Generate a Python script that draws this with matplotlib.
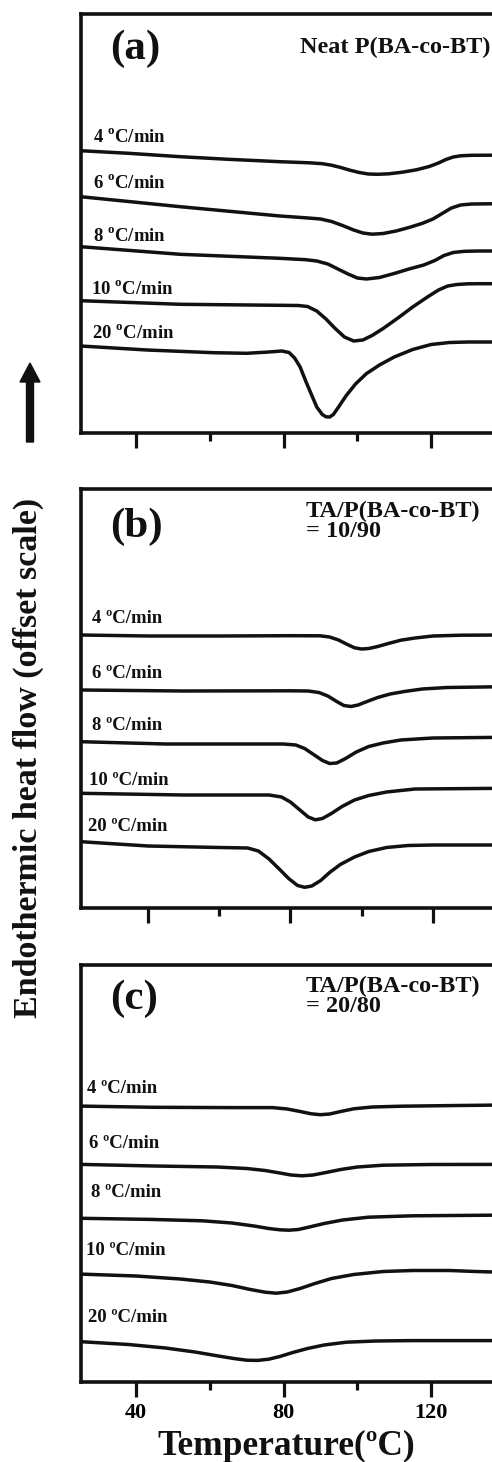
import matplotlib
matplotlib.use('Agg')
import matplotlib.pyplot as plt
from matplotlib.patches import FancyArrow

plt.rcParams['font.family'] = ['Liberation Serif', 'DejaVu Serif']
plt.rcParams['font.weight'] = 'bold'
plt.rcParams['mathtext.fontset'] = 'custom'
plt.rcParams['mathtext.rm'] = 'Liberation Serif:bold'
plt.rcParams['mathtext.bf'] = 'Liberation Serif:bold'

INK = '#111111'

# heating rates, same order in every panel
rates = [4, 6, 8, 10, 20]

# (a) neat P(BA-co-BT): temperature (C) and offset heat flow (a.u.)
temp_a = [
    [25, 38, 52, 65, 79, 87, 90.5, 93, 95.5, 98, 100.5, 103, 105.5, 108.5, 112, 116, 119.5, 122, 124, 126, 128, 131, 136, 140],
    [25, 52, 79, 86, 90, 93, 96, 99, 101.5, 104, 107, 110.5, 114, 117.5, 120.5, 123, 125.5, 128, 131, 136, 140],
    [25, 52, 79, 86, 89, 92, 95, 97.5, 100, 102.5, 106, 110, 114, 118, 121, 123.5, 126, 129, 133, 140],
    [25, 52, 79, 84, 86.5, 89, 91.5, 94, 96.5, 99, 101.5, 104, 107, 111, 115, 119, 122, 124.5, 127, 130, 134, 140],
    [25, 43, 61, 70, 76, 79.5, 81.5, 83, 84.5, 86, 87.5, 89, 90.5, 91.5, 92.5, 93.5, 95, 97, 99.5, 102.5, 106, 110, 115, 120, 125, 130, 140],
]
flow_a = [
    [28.23, 27.97, 27.63, 27.37, 27.13, 27.02, 26.93, 26.78, 26.55, 26.28, 26.05, 25.9, 25.87, 25.92, 26.07, 26.32, 26.65, 27.0, 27.35, 27.6, 27.72, 27.77, 27.78, 27.78],
    [23.63, 22.63, 21.7, 21.52, 21.4, 21.15, 20.75, 20.3, 20.0, 19.88, 19.95, 20.2, 20.55, 20.95, 21.4, 21.95, 22.5, 22.8, 22.9, 22.92, 22.92],
    [18.63, 17.87, 17.47, 17.33, 17.2, 16.9, 16.35, 15.9, 15.5, 15.4, 15.55, 15.95, 16.4, 16.8, 17.25, 17.75, 18.05, 18.17, 18.2, 18.2],
    [13.23, 12.87, 12.77, 12.75, 12.65, 12.2, 11.4, 10.45, 9.6, 9.2, 9.3, 9.75, 10.45, 11.5, 12.6, 13.6, 14.3, 14.7, 14.85, 14.92, 14.93, 14.93],
    [8.7, 8.3, 8.03, 7.97, 8.1, 8.2, 8.05, 7.5, 6.6, 5.2, 3.9, 2.6, 1.85, 1.62, 1.6, 1.85, 2.65, 3.75, 4.9, 5.95, 6.8, 7.6, 8.35, 8.85, 9.05, 9.1, 9.1],
]

# (b) TA/P(BA-co-BT) = 10/90
temp_b = [
    [21.2, 40, 60, 80, 88.3, 91, 93.5, 96, 98, 100, 102, 104.5, 107.5, 111, 115, 120, 128, 140],
    [21.2, 50, 80, 85, 88, 90.5, 93, 95, 97, 99, 101.5, 104.5, 108, 112, 117, 124, 140],
    [21.2, 45, 65, 78, 81.5, 84, 86.5, 89, 91, 93, 95.5, 98.5, 102, 106, 111, 120, 140],
    [21.2, 50, 74, 77.5, 80, 82.5, 85, 87, 89, 91.5, 94.5, 98, 102, 107, 115, 140],
    [21.2, 40, 60, 68, 71, 74, 77, 79.5, 82, 84, 86, 88.5, 91, 94, 98, 102, 107, 113, 120, 140],
]
flow_b = [
    [27.3, 27.2, 27.2, 27.23, 27.22, 27.1, 26.8, 26.35, 26.02, 25.9, 25.95, 26.15, 26.45, 26.78, 27.0, 27.2, 27.28, 27.3],
    [21.8, 21.7, 21.72, 21.7, 21.55, 21.2, 20.65, 20.25, 20.15, 20.3, 20.65, 21.05, 21.4, 21.65, 21.9, 22.05, 22.13],
    [16.63, 16.4, 16.4, 16.4, 16.3, 15.95, 15.35, 14.75, 14.45, 14.5, 14.95, 15.6, 16.15, 16.5, 16.8, 17.0, 17.07],
    [11.47, 11.3, 11.3, 11.1, 10.6, 9.85, 9.1, 8.82, 8.95, 9.45, 10.15, 10.8, 11.25, 11.6, 11.9, 11.97],
    [6.63, 6.2, 6.05, 6.0, 5.7, 4.9, 3.85, 2.95, 2.25, 2.07, 2.2, 2.75, 3.55, 4.35, 5.1, 5.65, 6.05, 6.25, 6.3, 6.3],
]

# (c) TA/P(BA-co-BT) = 20/80
temp_c = [
    [25.1, 45, 65, 77, 81, 84.5, 87.5, 90, 92.5, 95.5, 99, 104, 112, 125, 140],
    [25.1, 45, 62, 70, 75, 79, 82, 85, 88, 91.5, 95.5, 100, 107, 120, 140],
    [25.1, 44, 58, 66, 72, 76, 79, 81.5, 84, 87, 91, 96, 103, 115, 140],
    [25.1, 40, 52, 60, 66, 71, 75, 78, 81, 84.5, 88.5, 93, 99, 107, 115, 125, 132, 140],
    [25.1, 38, 48, 56, 62, 66.5, 70, 73, 76, 79, 82.5, 86.5, 91, 97, 105, 115, 140],
]
flow_c = [
    [27.59, 27.47, 27.44, 27.44, 27.3, 27.05, 26.82, 26.73, 26.8, 27.05, 27.32, 27.5, 27.58, 27.64, 27.7],
    [21.76, 21.6, 21.5, 21.35, 21.15, 20.9, 20.7, 20.62, 20.7, 20.95, 21.25, 21.5, 21.68, 21.75, 21.76],
    [16.37, 16.26, 16.12, 15.9, 15.6, 15.35, 15.22, 15.18, 15.25, 15.5, 15.85, 16.2, 16.48, 16.62, 16.69],
    [10.79, 10.6, 10.3, 10.0, 9.65, 9.25, 8.98, 8.88, 9.0, 9.35, 9.85, 10.35, 10.75, 11.05, 11.15, 11.15, 11.05, 10.97],
    [4.03, 3.75, 3.4, 3.0, 2.62, 2.35, 2.18, 2.16, 2.28, 2.55, 2.95, 3.35, 3.7, 3.98, 4.1, 4.14, 4.14],
]

panel_tags = ['(a)', '(b)', '(c)']
panel_notes = ['Neat P(BA-co-BT)', 'TA/P(BA-co-BT)\n= 10/90', 'TA/P(BA-co-BT)\n= 20/80']
tick_major = [40, 80, 120]
tick_minor = [60, 100]

fig = plt.figure(figsize=(4.92, 14.62), dpi=100)
H = 1462.0
W = 492.0


def make_axes(top_px, bottom_px):
    return fig.add_axes([81 / W, 1 - bottom_px / H, 1 - 81 / W, (bottom_px - top_px) / H])


ax_a = make_axes(14, 433)
ax_b = make_axes(489, 908)
ax_c = make_axes(965, 1382)

panels = [
    (ax_a, temp_a, flow_a, (25.1, 136.5), 41.9),
    (ax_b, temp_b, flow_b, (21.2, 136.6), 41.9),
    (ax_c, temp_c, flow_c, (25.1, 136.5), 41.7),
]

# label layout: (x of text start, baseline) per rate, in each panel's data units
label_pos = [
    [(28.3, 29.1), (28.3, 24.5), (28.3, 19.2), (27.8, 13.9), (28.1, 9.55)],
    [(24.2, 28.5), (24.2, 23.0), (24.2, 17.8), (23.5, 12.3), (23.2, 7.7)],
    [(26.8, 28.9), (27.3, 23.45), (27.7, 18.5), (26.4, 12.7), (27.1, 5.95)],
]
tag_pos = [(33.0, 38.4), (29.3, 38.1), (33.0, 38.3)]
note_pos = [(84.5, 39.6), (84.3, 40.7), (86.0, 40.6)]

for i, (ax, temps, flows, xlim, ytop) in enumerate(panels):
    for T, Y in zip(temps, flows):
        ax.plot(T, Y, color=INK, lw=2.5, solid_capstyle='round', solid_joinstyle='round')
    ax.set_xlim(*xlim)
    ax.set_ylim(0, ytop)
    ax.spines['right'].set_visible(False)
    for s in ['left', 'top', 'bottom']:
        ax.spines[s].set_linewidth(2.6)
        ax.spines[s].set_color(INK)
    ax.set_yticks([])
    ax.set_xticks(tick_major)
    ax.set_xticks(tick_minor, minor=True)
    ax.tick_params(axis='x', which='major', direction='out', length=11, width=2.3, color=INK,
                   labelsize=16, pad=4, labelbottom=(i == 2))
    ax.tick_params(axis='x', which='minor', direction='out', length=6, width=2.3, color=INK)

    for r, (lx, ly) in zip(rates, label_pos[i]):
        if i == 0:
            txt = r'%d $^{\mathbf{o}}$C/min' % r
        else:
            txt = '%d ºC/min' % r
        ax.text(lx, ly, txt, fontsize=13.5, fontweight='bold', color=INK, va='baseline', ha='left')

    ax.text(tag_pos[i][0], tag_pos[i][1], panel_tags[i], fontsize=31, fontweight='bold',
            color=INK, va='center', ha='left')
    ax.text(note_pos[i][0], note_pos[i][1], panel_notes[i], fontsize=17.5, fontweight='bold',
            color=INK, va='top', ha='left', linespacing=0.95)

ax_c.set_xlabel('Temperature(ºC)', fontsize=25.5, fontweight='bold', color=INK, labelpad=5)

fig.text(28 / W, 1 - 758 / H, 'Endothermic heat flow (offset scale)', rotation=90,
         fontsize=24.5, fontweight='bold', color=INK, ha='center', va='center')

arrow = FancyArrow(0.30, (H - 442) / 100, 0, 0.79, width=0.07, head_width=0.20, head_length=0.19,
                   length_includes_head=True, color=INK, transform=fig.dpi_scale_trans)
fig.add_artist(arrow)

fig.savefig('out.png', dpi=100)
